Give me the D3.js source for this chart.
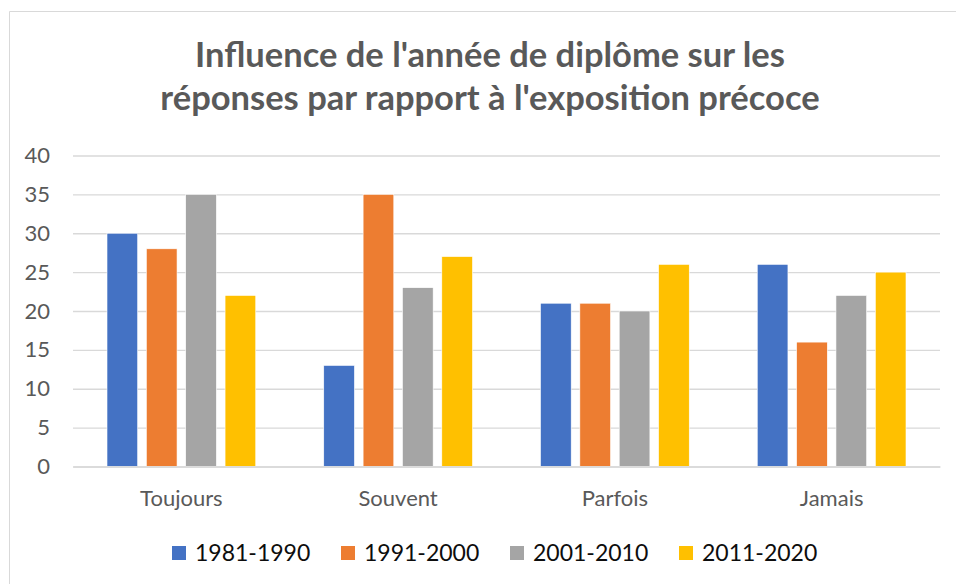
<!DOCTYPE html>
<html><head><meta charset="utf-8">
<script src="https://cdn.jsdelivr.net/npm/d3@7"></script>
<style>body{margin:0;background:#fff}svg{display:block}text{font-family:Lato,"Open Sans",sans-serif}</style>
</head><body>
<svg id="c" width="956" height="584"></svg>
<script>
const categories = ["Toujours","Souvent","Parfois","Jamais"];
const seriesNames = ["1981-1990","1991-2000","2001-2010","2011-2020"];
const s1981 = [30,13,21,26];
const s1991 = [28,35,21,16];
const s2001 = [35,23,20,22];
const s2011 = [22,27,26,25];
const yTicks = [0,5,10,15,20,25,30,35,40];
const titleLines = ["Influence de l'année de diplôme sur les","réponses par rapport à l'exposition précoce"];
const colors = ["#4472C4","#ED7D31","#A5A5A5","#FFC000"];
const seriesValues = [s1981,s1991,s2001,s2011];

const svg = d3.select("#c");
// chart border
svg.append("path").attr("d","M9.5,600V11.5H970").attr("fill","none").attr("stroke","#d9d9d9").attr("stroke-width",1);

const pL=73, pR=940, pT=155.5, pB=466.5;
const y = d3.scaleLinear().domain([0,40]).range([pB,pT]);
const x0 = d3.scaleBand().domain(categories).range([pL,pR]).padding(0);
const gap = 34;
const x1 = d3.scaleBand().domain(seriesNames).range([gap, x0.bandwidth()-gap]).paddingInner(0.22).paddingOuter(0);

// grid
const yAxis = d3.axisLeft(y).tickValues(yTicks).tickSize(-(pR-pL)).tickPadding(23);
const gy = svg.append("g").attr("transform",`translate(${pL},0)`).call(yAxis);
gy.select(".domain").remove();
gy.selectAll(".tick line").attr("stroke","#d9d9d9").attr("stroke-width",1.3);
gy.selectAll(".tick text").attr("fill","#595959").attr("font-size","22px").style("font-family","Lato");

// bars
const g = svg.append("g");
categories.forEach((c,ci)=>{
  seriesNames.forEach((s,si)=>{
    const v = seriesValues[si][ci];
    g.append("rect")
      .attr("x", x0(c)+x1(s)).attr("width", x1.bandwidth())
      .attr("y", y(v)).attr("height", y(0)-y(v))
      .attr("fill", colors[si]).attr("stroke","#fff").attr("stroke-width",0.6);
  });
});

// x axis
const xAxis = d3.axisBottom(x0).tickSize(0).tickPadding(24);
const gx = svg.append("g").attr("transform",`translate(0,${pB})`).call(xAxis);
gx.select(".domain").attr("stroke","#d9d9d9").attr("stroke-width",1.3);
gx.selectAll(".tick text").attr("fill","#595959").attr("font-size","22px").style("font-family","Lato");

// title
svg.append("text").attr("x",490).attr("y",67).attr("text-anchor","middle")
  .attr("font-size","34.5px").attr("font-weight","bold").attr("fill","#595959")
  .selectAll("tspan").data(titleLines).join("tspan")
  .attr("x",490).attr("dy",(d,i)=>i===0?0:43).text(d=>d);

// legend
const lg = svg.append("g");
seriesNames.forEach((s,i)=>{
  const lx = 172 + i*169;
  lg.append("rect").attr("x",lx).attr("y",546).attr("width",14).attr("height",14).attr("fill",colors[i]);
  lg.append("text").attr("x",lx+23).attr("y",561).attr("font-size","23px").attr("fill","#0d0d0d").text(s);
});
</script>
</body></html>
